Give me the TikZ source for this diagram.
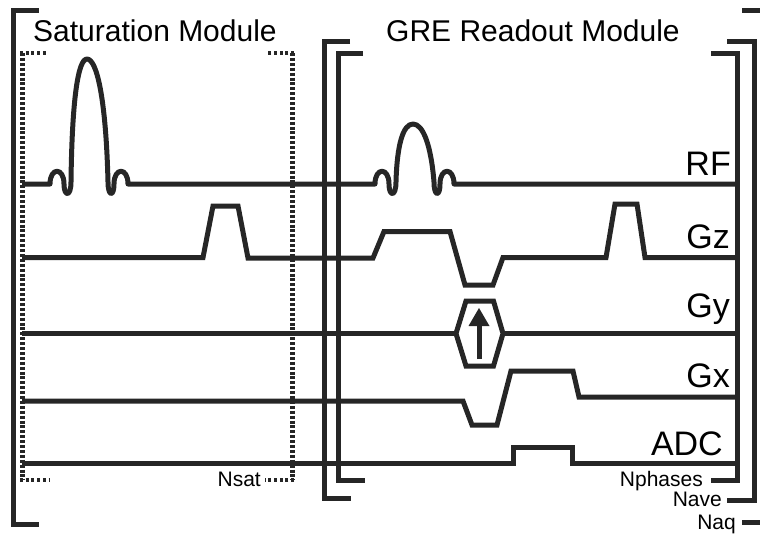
\documentclass[tikz,border=0pt]{standalone}
\usepackage{fontspec}
\setmainfont{Liberation Sans}
\definecolor{ink}{HTML}{262626}
\tikzset{
  seq/.style={draw=ink,line width=5pt,line join=miter,miter limit=3},
  dots/.style={draw=ink,line width=5pt,dash pattern=on 3pt off 1.9pt},
  hdots/.style={draw=ink,line width=4.6pt,dash pattern=on 3pt off 2.7pt},
  big/.style={inner sep=0pt,text=black,font=\fontsize{30}{36}\selectfont},
  chan/.style={inner sep=0pt,text=black,anchor=base east,font=\fontsize{34}{40}\selectfont},
  small/.style={inner sep=0pt,text=black,anchor=base east,font=\fontsize{21}{25}\selectfont}
}
\begin{document}
\begin{tikzpicture}[x=1pt,y=-1pt]
\useasboundingbox (0,0) rectangle (760,533);
% brackets
\draw[seq] (38.5,10.5) -- (13.5,10.5) -- (13.5,524) -- (39,524);
\draw[seq] (350,41) -- (324,41) -- (324,498) -- (351,498);
\draw[seq] (363,53.5) -- (338,53.5) -- (338,480) -- (365,480);
\draw[seq] (711,53.5) -- (737,53.5) -- (737,480) -- (711,480);
\draw[seq] (727,41) -- (754,41) -- (754,500) -- (727,500);
\draw[seq] (742,10.5) -- (760,10.5);
\draw[seq] (742,522) -- (760,522);
% dotted saturation box
\draw[dots] (22,53) -- (22,480);
\draw[dots] (292,53) -- (292,480);
\draw[hdots] (20,53) -- (47,53);
\draw[hdots] (294,53) -- (266,53);
\draw[hdots] (20,480) -- (49,480);
\draw[hdots] (294,480) -- (265,480);
% RF
\draw[seq,line join=round] (22,184) -- (50,184)
  .. controls (50,167) and (64,167) .. (64,184)
  .. controls (64,197) and (71,197) .. (71,182)
  .. controls (72,100) and (78,59) .. (87,59)
  .. controls (97,59) and (106,100) .. (108,182)
  .. controls (108,197) and (114,197) .. (114,184)
  .. controls (114,167) and (128,167) .. (128,184)
  -- (375,184)
  .. controls (375,167) and (389,167) .. (389,184)
  .. controls (389,197) and (396,197) .. (396,182)
  .. controls (397,145) and (403,124) .. (413,124)
  .. controls (423,124) and (431,145) .. (434,182)
  .. controls (434,197) and (440,197) .. (440,184)
  .. controls (440,167) and (454,167) .. (454,184)
  -- (737,184);
% Gz
\draw[seq] (22,257.5) -- (203,257.5) -- (213,206) -- (238,206) -- (248,258) -- (373,258)
  -- (384,231.5) -- (450,231.5) -- (465,285) -- (493,285) -- (503,257.5) -- (606,257.5)
  -- (615,204) -- (637,204) -- (645,257.5) -- (737,257.5);
% Gy
\draw[seq] (22,333.5) -- (456,333.5);
\draw[seq] (503,333.5) -- (737,333.5);
\draw[seq] (456,333.5) -- (466,301) -- (493.5,301) -- (503,333.5) -- (493.5,366) -- (466,366) -- cycle;
\draw[draw=ink,line width=5pt] (479,359) -- (479,322);
\fill[ink] (479,308) -- (489.5,326) -- (468.5,326) -- cycle;
% Gx
\draw[seq] (22,401) -- (463,401) -- (472,425) -- (497,425) -- (511,371) -- (573,371) -- (579,397) -- (737,397);
% ADC
\draw[seq] (22,463) -- (513,463) -- (513,447) -- (572,447) -- (572,463) -- (737,463);
% labels
\node[big,anchor=base west] (sat) at (33,41) {Saturation Module};
\node[big,anchor=base west] (gre) at (386,41) {GRE Readout Module};
\node[chan] (rf) at (731,175) {RF};
\node[chan] (gz) at (730,248) {Gz};
\node[chan] (gy) at (730,317) {Gy};
\node[chan] (gx) at (730,387) {Gx};
\node[chan] (adc) at (723,455) {ADC};
\node[small] (nsat) at (261,486) {Nsat};
\node[small] (nph) at (703,486) {Nphases};
\node[small] (nave) at (722,506) {Nave};
\node[small] (naq) at (736,529) {Naq};
\end{tikzpicture}
\end{document}
